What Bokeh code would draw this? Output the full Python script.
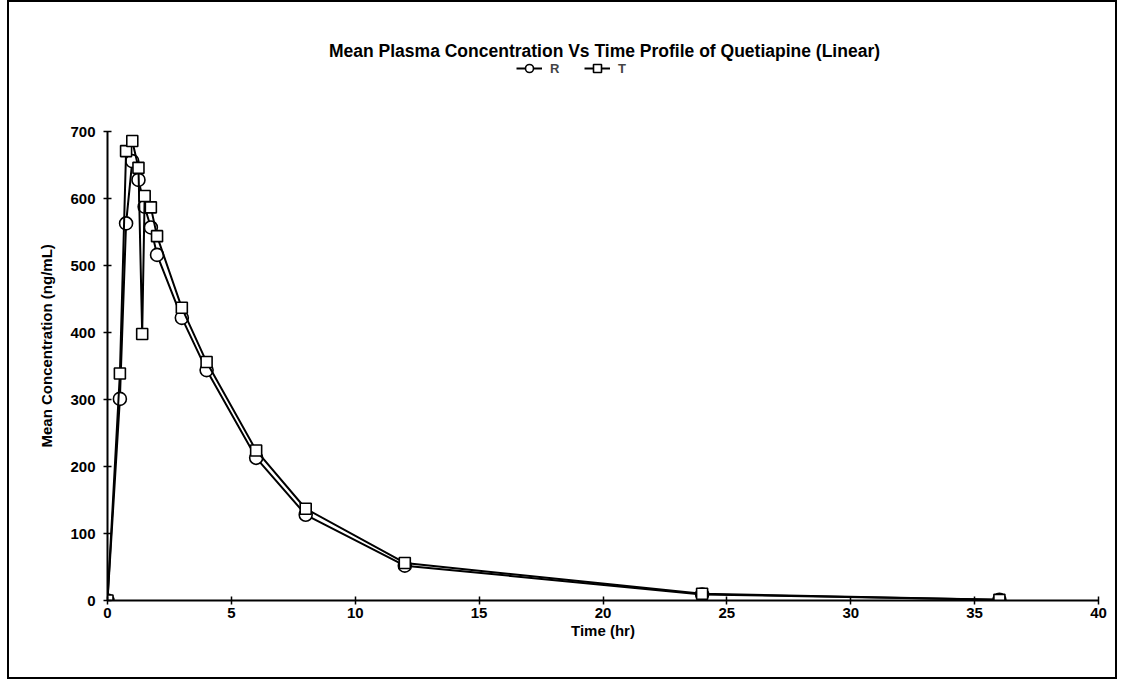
from bokeh.plotting import figure
from bokeh.models import Range1d, Legend, LegendItem, Label, Title
from bokeh.embed import file_html
from bokeh.resources import INLINE

# ---- data ----
time_r = [0, 0.5, 0.75, 1, 1.25, 1.5, 1.75, 2, 3, 4, 6, 8, 12, 24, 36]
conc_r = [0, 301, 563, 656, 628, 588, 557, 516, 422, 344, 213, 128, 52, 9, 1]

time_t = [0, 0.5, 0.75, 1, 1.25, 1.4, 1.5, 1.75, 2, 3, 4, 6, 8, 12, 24, 36]
conc_t = [0, 339, 671, 686, 646, 398, 604, 587, 544, 437, 356, 224, 137, 56, 10, 1]

x_ticks = [0, 5, 10, 15, 20, 25, 30, 35, 40]
y_ticks = [0, 100, 200, 300, 400, 500, 600, 700]

title_text = "Mean Plasma Concentration Vs Time Profile of Quetiapine (Linear)"
x_label = "Time (hr)"
y_label = "Mean Concentration (ng/mL)"
series_names = ["R", "T"]

FONT = "Liberation Sans"

# headroom above the y axis so that title and legend sit inside the frame
Y_TOP = 860

p = figure(width=1110, height=679,
           x_range=Range1d(x_ticks[0], x_ticks[-1]),
           y_range=Range1d(y_ticks[0], Y_TOP),
           output_backend="svg", toolbar_location=None,
           min_border_left=98, min_border_right=21,
           min_border_top=22, min_border_bottom=81)
p.styles = {"border": "2px solid black", "margin-left": "7px"}
p.title = None
p.grid.visible = False
p.outline_line_color = None
p.background_fill_color = "white"
p.border_fill_color = "white"

for ax in (p.xaxis[0], p.yaxis[0]):
    ax.axis_line_width = 2
    ax.axis_line_color = "black"
    ax.major_tick_line_color = "black"
    ax.major_tick_line_width = 1.5
    ax.major_tick_in = 4
    ax.major_tick_out = 4
    ax.minor_tick_line_color = None
    ax.major_label_text_font = FONT
    ax.major_label_text_font_style = "bold"
    ax.major_label_text_font_size = "15px"
    ax.major_label_text_color = "black"
    ax.axis_label_text_font = FONT
    ax.axis_label_text_font_style = "bold"
    ax.axis_label_text_font_size = "15px"
    ax.axis_label_text_color = "black"

p.xaxis.ticker = x_ticks
p.yaxis.ticker = y_ticks
p.yaxis.bounds = (y_ticks[0], y_ticks[-1])
p.xaxis.axis_label = x_label
p.xaxis.major_label_standoff = 3
p.yaxis.major_label_standoff = 8
p.xaxis.axis_label_standoff = 1

# y-axis title, placed along the 0..700 part of the axis
p.add_layout(Title(text=y_label, align="left", offset=153, standoff=25,
                   text_font=FONT, text_font_style="bold",
                   text_font_size="15px", text_color="black"), "left")

lr = p.line(time_r, conc_r, line_color="black", line_width=2)
sr = p.scatter(time_r, conc_r, marker="circle", size=13, fill_color="white",
               line_color="black", line_width=1.6)
lt = p.line(time_t, conc_t, line_color="black", line_width=2)
st = p.scatter(time_t, conc_t, marker="square", size=11, fill_color="white",
               line_color="black", line_width=1.6)

legend = Legend(items=[LegendItem(label=series_names[0], renderers=[lr, sr]),
                       LegendItem(label=series_names[1], renderers=[lt, st])],
                orientation="horizontal", location=(409, 522),
                border_line_color=None, background_fill_alpha=0,
                padding=0, spacing=14, glyph_width=26, label_standoff=8,
                label_text_font=FONT, label_text_font_style="bold",
                label_text_font_size="13px")
p.add_layout(legend, "center")

p.add_layout(Label(x=497, y=550, x_units="screen", y_units="screen",
                   text=title_text, text_align="center", text_baseline="middle",
                   text_font=FONT, text_font_style="bold", text_font_size="17.5px",
                   text_color="black"))

open("out.html", "w").write(file_html(p, INLINE))
